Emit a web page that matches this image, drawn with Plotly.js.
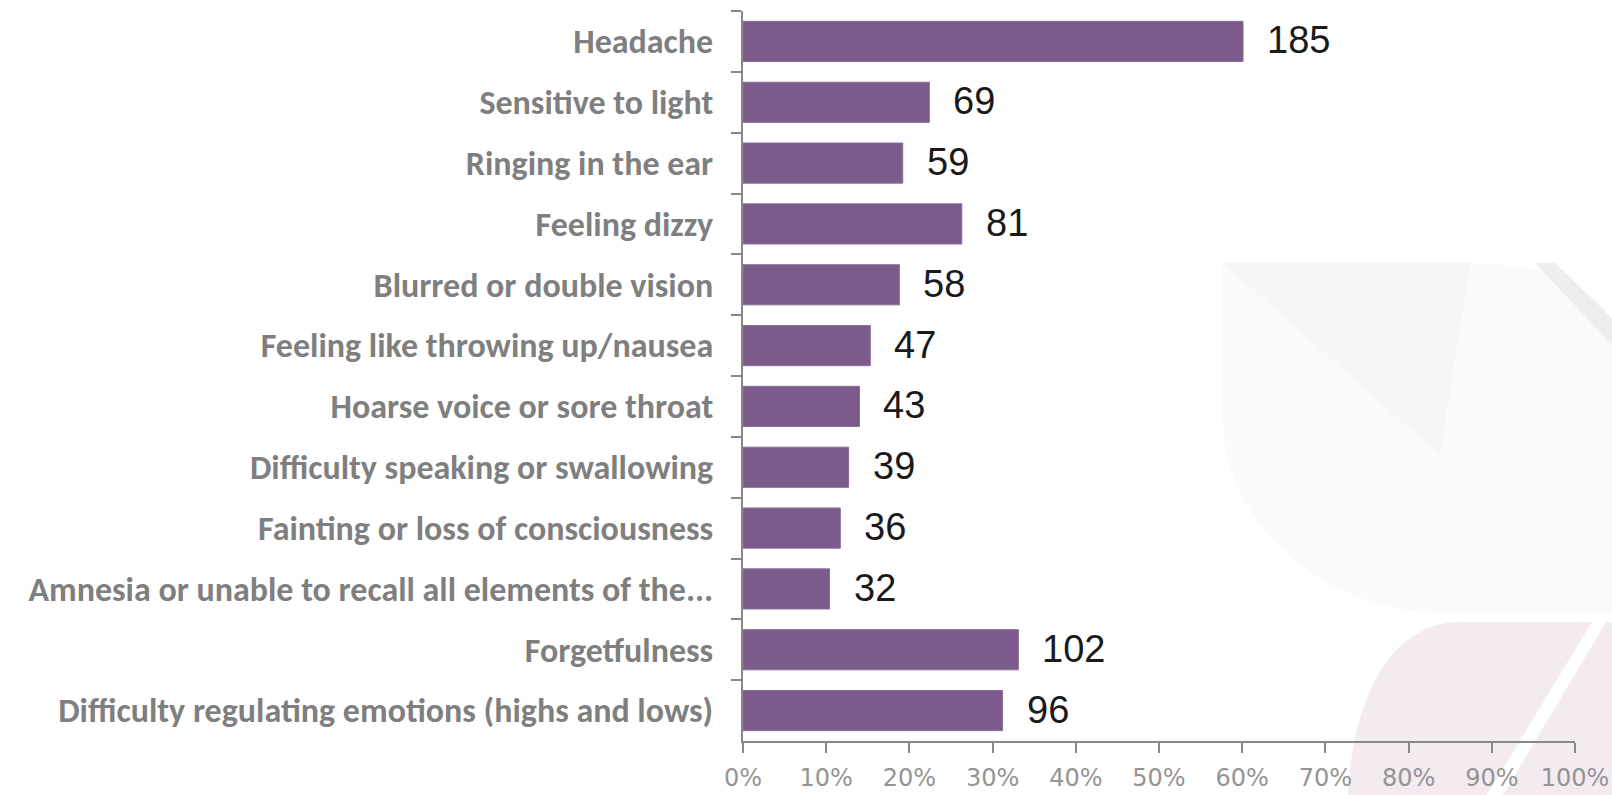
<!DOCTYPE html>
<html>
<head>
<meta charset="utf-8">
<script src="https://cdn.plot.ly/plotly-3.0.1.min.js"></script>
<style>
  html, body { margin: 0; padding: 0; background: #ffffff; }
  #chart { width: 1612px; height: 795px; }
</style>
</head>
<body>
<div id="chart"></div>
<script>
// ---- data ----
var symptoms = [
  "Headache",
  "Sensitive to light",
  "Ringing in the ear",
  "Feeling dizzy",
  "Blurred or double vision",
  "Feeling like throwing up/nausea",
  "Hoarse voice or sore throat",
  "Difficulty speaking or swallowing",
  "Fainting or loss of consciousness",
  "Amnesia or unable to recall all elements of the...",
  "Forgetfulness",
  "Difficulty regulating emotions (highs and lows)"
];
var counts = [185, 69, 59, 81, 58, 47, 43, 39, 36, 32, 102, 96];
var shares = [0.601, 0.224, 0.192, 0.263, 0.188, 0.153, 0.140, 0.127, 0.117, 0.104, 0.331, 0.312];
var xTickVals = [0, 0.1, 0.2, 0.3, 0.4, 0.5, 0.6, 0.7, 0.8, 0.9, 1.0];
var xTickText = ["0%", "10%", "20%", "30%", "40%", "50%", "60%", "70%", "80%", "90%", "100%"];

// ---- layout geometry ----
var W = 1612, H = 795;
var M = { l: 743, r: 37, t: 11, b: 54 };
var PW = W - M.l - M.r, PH = H - M.t - M.b;
function px(x) { return ((x - M.l) / PW).toFixed(4); }
function py(y) { return (1 - (y - M.t) / PH).toFixed(4); }
function P(x, y) { return px(x) + "," + py(y); }

// faint decorative background watermark (paper-referenced)
var shapes = [
  { // large faint petal
    type: "path", xref: "paper", yref: "paper", layer: "below", line: { width: 0 },
    fillcolor: "rgba(246,246,248,0.6)",
    path: "M" + P(1223, 263) + " L" + P(1470, 263) +
          " C" + P(1560, 263) + " " + P(1612, 300) + " " + P(1612, 330) +
          " L" + P(1612, 612) + " L" + P(1440, 612) +
          " C" + P(1320, 612) + " " + P(1223, 520) + " " + P(1223, 420) + " Z"
  },
  { // slightly darker triangle in petal
    type: "path", xref: "paper", yref: "paper", layer: "below", line: { width: 0 },
    fillcolor: "rgba(240,240,244,0.4)",
    path: "M" + P(1223, 263) + " L" + P(1470, 263) + " L" + P(1440, 455) + " Z"
  },
  { // gray diagonal stripe top right
    type: "path", xref: "paper", yref: "paper", layer: "below", line: { width: 0 },
    fillcolor: "rgba(234,234,238,0.8)",
    path: "M" + P(1535, 263) + " L" + P(1555, 263) + " L" + P(1612, 318) + " L" + P(1612, 345) + " Z"
  },
  { // pink lower shape
    type: "path", xref: "paper", yref: "paper", layer: "below", line: { width: 0 },
    fillcolor: "rgba(240,230,236,0.8)",
    path: "M" + P(1460, 622) + " L" + P(1612, 622) + " L" + P(1612, 795) + " L" + P(1348, 795) +
          " C" + P(1352, 700) + " " + P(1390, 622) + " " + P(1460, 622) + " Z"
  },
  { // white diagonal stripe through pink shape
    type: "path", xref: "paper", yref: "paper", layer: "below", line: { width: 0 },
    fillcolor: "#ffffff",
    path: "M" + P(1592, 622) + " L" + P(1606, 622) + " L" + P(1503, 795) + " L" + P(1487, 795) + " Z"
  }
];

var annotations = symptoms.map(function (s, i) {
  return {
    x: shares[i], y: s, xref: "x", yref: "y",
    text: String(counts[i]), showarrow: false,
    xanchor: "left", yanchor: "middle", xshift: 22, yshift: 1,
    font: { family: "Liberation Sans, Arial, sans-serif", size: 38, color: "#1a1a1a" }
  };
});

var trace = {
  type: "bar", orientation: "h",
  x: shares, y: symptoms,
  marker: { color: "#7b5b8c", line: { width: 1, color: "#8a6d99" } },
  hoverinfo: "skip"
};

var layout = {
  width: W, height: H,
  margin: M,
  paper_bgcolor: "#ffffff",
  plot_bgcolor: "rgba(0,0,0,0)",
  showlegend: false,
  bargap: 0.34,
  xaxis: {
    range: [0, 1], tickvals: xTickVals, ticktext: xTickText,
    showgrid: false, zeroline: false,
    showline: true, linecolor: "#888888", linewidth: 2,
    ticks: "outside", ticklen: 10, tickwidth: 2, tickcolor: "#888888",
    tickfont: { family: "DejaVu Sans, sans-serif", size: 24, color: "#949494" },
    ticklabelstandoff: 4,
    fixedrange: true
  },
  yaxis: {
    type: "category", autorange: "reversed",
    showgrid: false, zeroline: false,
    showline: true, linecolor: "#888888", linewidth: 2,
    ticks: "outside", ticklen: 10, tickwidth: 2, tickcolor: "#888888",
    tickson: "boundaries",
    tickfont: { family: "Carlito, Lato, sans-serif", size: 34, color: "#7f7f7f", weight: "bold" },
    ticklabelstandoff: 21,
    fixedrange: true
  },
  shapes: shapes,
  annotations: annotations
};

Plotly.newPlot("chart", [trace], layout, { staticPlot: true, displayModeBar: false });
</script>
</body>
</html>
